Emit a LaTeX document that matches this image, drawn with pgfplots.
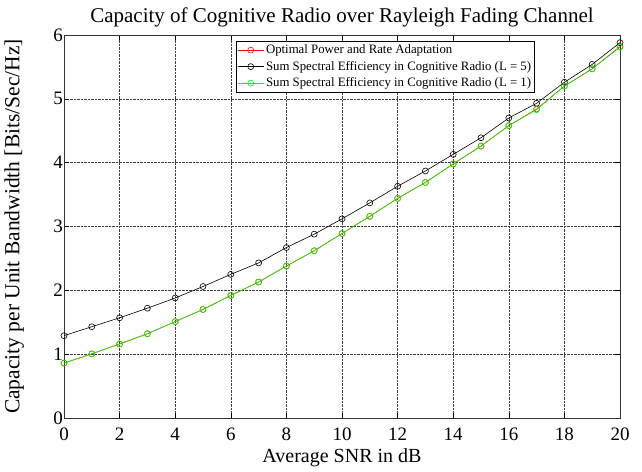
\documentclass[border=0pt]{standalone}
\usepackage{pgfplots}
\pgfplotsset{compat=1.18}
\usepackage{fontspec}
\setmainfont{Liberation Serif}
\begin{document}
\begin{tikzpicture}
\begin{axis}[
  name=ax,
  scale only axis,
  width=556pt, height=383pt,
  xmin=0, xmax=20, ymin=0, ymax=6,
  xtick={0,2,...,20}, ytick={0,1,...,6},
  /pgf/number format/assume math mode=true,
  tick label style={font=\fontsize{19}{22}\selectfont},
  xticklabel style={inner sep=1pt, yshift=-9pt},
  yticklabel style={inner sep=1pt},
  xlabel style={font=\fontsize{20}{23}\selectfont, inner sep=0pt, yshift=-6pt},
  ylabel style={font=\fontsize{21.5}{24}\selectfont, inner sep=0pt, yshift=28pt},
  title style={font=\fontsize{21}{24}\selectfont, inner sep=0pt, yshift=2pt},
  title={Capacity of Cognitive Radio over Rayleigh Fading Channel},
  xlabel={Average SNR in dB},
  ylabel={Capacity per Unit Bandwidth [Bits/Sec/Hz]},
  grid=major,
  major grid style={densely dotted, black!75, line width=0.6pt},
  axis line style={black!80, line width=0.7pt},
  tick style={black, line width=0.6pt},
  tick align=inside,
  major tick length=5pt,
  legend style={at={(0.847,0.984)}, anchor=north east, draw=black, line width=0.7pt,
    font=\fontsize{12.8}{15}\selectfont, inner sep=1.5pt, row sep=2pt,
    legend cell align=left},
  legend image code/.code={
    \draw[#1] (0pt,0pt) -- (26pt,0pt);
    \draw[#1, only marks] plot coordinates {(13pt,0pt)};
  },
  every axis plot/.append style={line width=0.6pt, mark=o, mark size=3pt, mark options={solid, line width=0.6pt}},
]
\addplot[red] coordinates {
(0,0.86) (1,1.005) (2,1.16) (3,1.32) (4,1.51) (5,1.70) (6,1.92) (7,2.13) (8,2.38) (9,2.62) (10,2.89)
(11,3.16) (12,3.44) (13,3.69) (14,3.98) (15,4.26) (16,4.58) (17,4.84) (18,5.20) (19,5.47) (20,5.82)};
\addlegendentry{Optimal Power and Rate Adaptation}
\addplot[black] coordinates {
(0,1.29) (1,1.43) (2,1.57) (3,1.72) (4,1.88) (5,2.06) (6,2.25) (7,2.43) (8,2.67) (9,2.88) (10,3.12)
(11,3.37) (12,3.63) (13,3.87) (14,4.13) (15,4.39) (16,4.70) (17,4.93) (18,5.26) (19,5.54) (20,5.88)};
\addlegendentry{Sum Spectral Efficiency in Cognitive Radio (L = 5)}
\addplot[green] coordinates {
(0,0.86) (1,1.005) (2,1.16) (3,1.32) (4,1.51) (5,1.70) (6,1.92) (7,2.13) (8,2.38) (9,2.62) (10,2.89)
(11,3.16) (12,3.44) (13,3.69) (14,3.98) (15,4.26) (16,4.58) (17,4.83) (18,5.20) (19,5.47) (20,5.81)};
\addlegendentry{Sum Spectral Efficiency in Cognitive Radio (L = 1)}
\end{axis}
\pgfresetboundingbox
\path[use as bounding box] ([xshift=-64pt,yshift=-53pt]ax.south west) rectangle ++(642pt,471pt);
\end{tikzpicture}
\end{document}
